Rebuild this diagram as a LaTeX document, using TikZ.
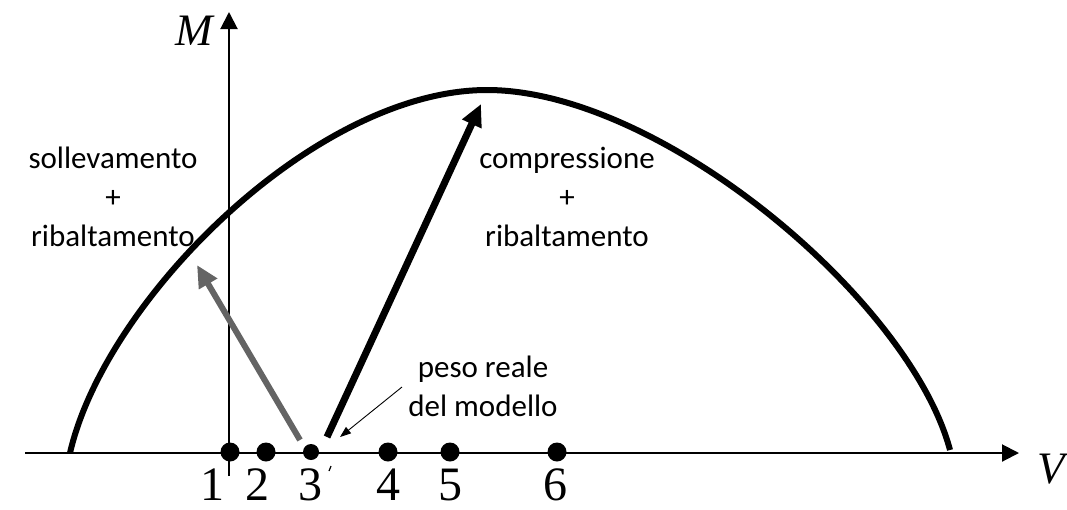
\documentclass[tikz,border=0pt]{standalone}
\usepackage{fontspec}
\setmainfont{Carlito}
\newfontfamily\serifmath{Liberation Serif}
\usetikzlibrary{arrows.meta}
\begin{document}
\begin{tikzpicture}[x=1pt,y=-1pt,
  axis/.style={line width=2pt,-{Triangle[length=17pt,width=17pt]}},
  dotbig/.style={circle,fill=black,inner sep=0pt,minimum size=19pt},
  dotsmall/.style={circle,fill=black,inner sep=0pt,minimum size=16pt},
  numlbl/.style={font=\serifmath\fontsize{48}{48}\selectfont,inner sep=0pt,anchor=base},
  lbl/.style={font=\fontsize{31}{39}\selectfont,align=center,inner sep=0pt},
  mathlbl/.style={font=\serifmath\itshape\fontsize{45}{45}\selectfont,inner sep=0pt,anchor=base}]
\useasboundingbox (0,0) rectangle (1067,509);
% axes
\coordinate (xs) at (25,453);
\coordinate (xe) at (1019,453);
\coordinate (ys) at (229,476);
\coordinate (ye) at (229,12);
\draw[axis] (xs) -- (xe);
\draw[axis] (ys) -- (ye);
\node[mathlbl] (V) at (1051,483) {V};
\node[mathlbl] (M) at (194,45) {M};
% curve
\coordinate (c0) at (70,453);
\coordinate (c1) at (487,90);
\coordinate (c2) at (950,450);
\draw[line width=6pt] (c0) .. controls (105,300) and (315,90) .. (c1)
  .. controls (660,90) and (910,300) .. (c2);
% labels
\node[lbl] (t1) at (113,197) {sollevamento\\+\\ribaltamento};
\node[lbl] (t2) at (567,197) {compressione\\+\\ribaltamento};
\node[lbl] (t3) at (483,386) {peso reale\\del modello};
% arrows
\coordinate (ga) at (300,440);
\coordinate (gb) at (197,265);
\draw[line width=6pt,color={rgb,255:red,100;green,100;blue,100},-{Triangle[length=22pt,width=20pt]}] (ga) -- (gb);
\coordinate (ba) at (327,437);
\coordinate (bb) at (481,104);
\draw[line width=7pt,-{Triangle[length=22pt,width=20pt]}] (ba) -- (bb);
\coordinate (pa) at (402,387);
\coordinate (pb) at (340,437);
\draw[line width=0.9pt,-{Triangle[length=11pt,width=8pt]}] (pa) -- (pb);
% small mark
\coordinate (ma) at (331,466);
\coordinate (mb) at (329,471);
\draw[line width=1.2pt] (ma) -- (mb);
% dots
\node[dotbig] (d1) at (230,452) {};
\node[dotbig] (d2) at (266,452) {};
\node[dotsmall] (d3) at (311,452) {};
\node[dotbig] (d4) at (388,452) {};
\node[dotbig] (d5) at (450,452) {};
\node[dotbig] (d6) at (557,452) {};
% numbers
\node[numlbl] (n1) at (212,500) {1};
\node[numlbl] (n2) at (257,500) {2};
\node[numlbl] (n3) at (310,500) {3};
\node[numlbl] (n4) at (388,500) {4};
\node[numlbl] (n5) at (450,500) {5};
\node[numlbl] (n6) at (555,500) {6};
\end{tikzpicture}
\end{document}
